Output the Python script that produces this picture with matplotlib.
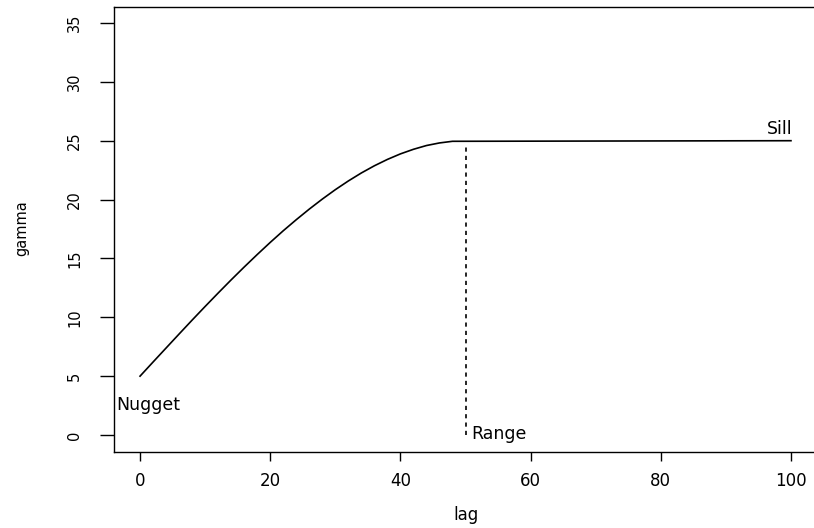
import matplotlib
matplotlib.use("Agg")
import matplotlib.pyplot as plt

plt.rcParams["font.family"] = ["DejaVu Sans"]

# semivariogram read every 2 lags up to where it flattens
lag = [0, 2, 4, 6, 8, 10, 12, 14, 16, 18, 20, 22, 24, 26, 28, 30,
       32, 34, 36, 38, 40, 42, 44, 46, 48, 100]
gamma = [5.0, 6.20, 7.39, 8.58, 9.76, 10.92, 12.06, 13.18, 14.27, 15.33, 16.36,
         17.35, 18.29, 19.19, 20.04, 20.84, 21.58, 22.26, 22.87, 23.41, 23.88,
         24.27, 24.59, 24.81, 24.95, 25.0]

nugget = 5
sill = 25
range_lag = 50
range_top = 24.5

xticks = [0, 20, 40, 60, 80, 100]
yticks = [0, 5, 10, 15, 20, 25, 30, 35]

W, H = 814, 528
fig = plt.figure(figsize=(W / 100, H / 100), dpi=100)
ax = fig.add_axes([114 / W, (H - 451.5) / H, (817 - 114) / W, (451.5 - 6.5) / H])

ax.plot(lag, gamma, color="black", lw=1.2)
ax.plot([range_lag, range_lag], [0, range_top], color="black", lw=1.2,
        linestyle=(0, (2.5, 2.5)))

ax.text(-3.7, 2.1, "Nugget", ha="left", va="baseline", fontsize=12.5)
ax.text(50.9, -0.35, "Range", ha="left", va="baseline", fontsize=12.5)
ax.text(100.3, 25.6, "Sill", ha="right", va="baseline", fontsize=12.5)

ax.set_xlim(-4, 104)
ax.set_ylim(-1.4, 36.4)
ax.set_xticks(xticks)
ax.set_yticks(yticks)
ax.tick_params(axis="x", direction="out", length=6.5, width=1, labelsize=12, pad=8.5)
ax.tick_params(axis="y", direction="out", length=10, width=1, labelsize=10.5, pad=13)
for lbl in ax.get_yticklabels():
    lbl.set_rotation(90)
    lbl.set_va("center")
for s in ax.spines.values():
    s.set_linewidth(1)

ax.set_xlabel("lag", fontsize=12, va="center")
ax.xaxis.set_label_coords(0.5007, -0.143)
ax.set_ylabel("gamma", fontsize=10.5, va="center")
ax.yaxis.set_label_coords(-0.1309, 0.503)

fig.savefig("out.png", dpi=100)
